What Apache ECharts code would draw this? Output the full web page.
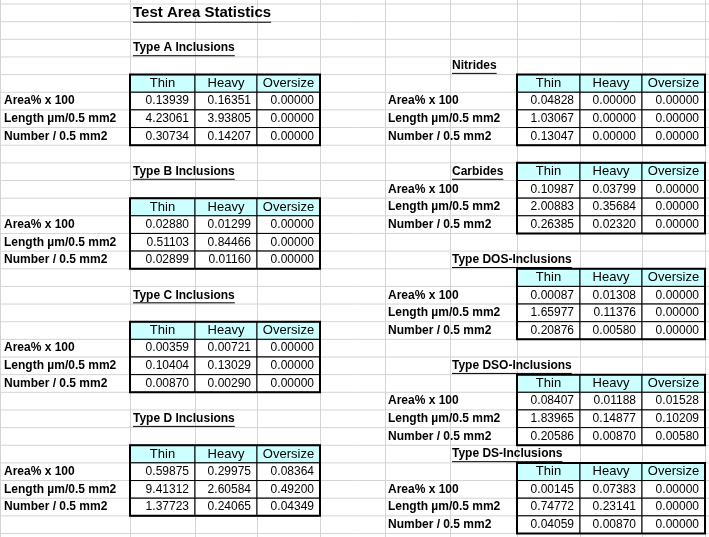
<!DOCTYPE html>
<html><head><meta charset="utf-8">
<script src="https://cdn.jsdelivr.net/npm/echarts@6/dist/echarts.min.js"></script>
<style>html,body{margin:0;padding:0;background:#fff}#c{width:709px;height:537px}</style>
</head><body><div id="c"></div>
<script>
const title = "Test Area Statistics";
const colHeaders = ["Thin","Heavy","Oversize"];
const rowLabels = ["Area% x 100","Length µm/0.5 mm2","Number / 0.5 mm2"];
const typeA = [[0.13939,0.16351,0.00000],[4.23061,3.93805,0.00000],[0.30734,0.14207,0.00000]];
const typeB = [[0.02880,0.01299,0.00000],[0.51103,0.84466,0.00000],[0.02899,0.01160,0.00000]];
const typeC = [[0.00359,0.00721,0.00000],[0.10404,0.13029,0.00000],[0.00870,0.00290,0.00000]];
const typeD = [[0.59875,0.29975,0.08364],[9.41312,2.60584,0.49200],[1.37723,0.24065,0.04349]];
const nitrides = [[0.04828,0.00000,0.00000],[1.03067,0.00000,0.00000],[0.13047,0.00000,0.00000]];
const carbides = [[0.10987,0.03799,0.00000],[2.00883,0.35684,0.00000],[0.26385,0.02320,0.00000]];
const typeDOS = [[0.00087,0.01308,0.00000],[1.65977,0.11376,0.00000],[0.20876,0.00580,0.00000]];
const typeDSO = [[0.08407,0.01188,0.01528],[1.83965,0.14877,0.10209],[0.20586,0.00870,0.00580]];
const typeDS = [[0.00145,0.07383,0.00000],[0.74772,0.23141,0.00000],[0.04059,0.00870,0.00000]];
const tableNames = ["Type A Inclusions","Type B Inclusions","Type C Inclusions","Type D Inclusions","Nitrides","Carbides","Type DOS-Inclusions","Type DSO-Inclusions","Type DS-Inclusions"];
const tableData = [typeA,typeB,typeC,typeD,nitrides,carbides,typeDOS,typeDSO,typeDS];

// layout
const colEdges=[0,130,195,257,320,385,450,517,580,642,705];
const rowTop=4, rowH=17.65, nRows=30;
// [titleRow, headerRow, side(0 left,1 right)]
const layout=[[3,5,0],[10,12,0],[17,19,0],[24,26,0],[4,5,1],[10,10,1],[15,16,1],[21,22,1],[26,27,1]];

const FONT='Liberation Sans, Arial, sans-serif';
const cv=document.createElement('canvas').getContext('2d');
function tw(t,f){cv.font=f;return cv.measureText(t).width;}

const els=[];
// spreadsheet gridlines
for(let r=0;r<=nRows+1;r++){const y=rowTop+r*rowH;els.push({type:'line',shape:{x1:0,y1:y,x2:709,y2:y},style:{stroke:'#d4d4d4',lineWidth:1}});}
colEdges.forEach(x=>els.push({type:'line',shape:{x1:x+0.5,y1:0,x2:x+0.5,y2:537},style:{stroke:'#d4d4d4',lineWidth:1}}));
// title
function uText(txt,x,yc,size){
  const f='bold '+size+'px '+FONT;
  els.push({type:'text',style:{text:txt,x:x,y:yc,font:f,fill:'#000',textVerticalAlign:'middle'}});
  const w=tw(txt,f);
  els.push({type:'line',shape:{x1:x,y1:yc+size*0.55+1,x2:x+w,y2:yc+size*0.55+1},style:{stroke:'#000',lineWidth:1}});
}
uText(title,133,13,15);
layout.forEach((L,ti)=>{
  const [tr,hr,side]=L;
  const cols=side?[7,8,9]:[1,2,3];
  const ytc=rowTop+(tr-0.5)*rowH;
  uText(tableNames[ti], side?452:133, ytc, 12);
  const x0=colEdges[cols[0]], x1=colEdges[cols[2]+1];
  const y0=rowTop+(hr-1)*rowH, y1=rowTop+(hr+3)*rowH;
  // header
  cols.forEach((c,j)=>{
    const a=colEdges[c],b=colEdges[c+1];
    els.push({type:'rect',shape:{x:a,y:y0,width:b-a,height:rowH},style:{fill:'#ccffff',stroke:'#000',lineWidth:1}});
    els.push({type:'text',style:{text:colHeaders[j],x:(a+b)/2,y:y0+rowH/2,font:'13px '+FONT,fill:'#000',textAlign:'center',textVerticalAlign:'middle'}});
  });
  tableData[ti].forEach((row,i)=>{
    const y=y0+(i+1)*rowH;
    els.push({type:'text',style:{text:rowLabels[i],x:side?388:4,y:y+rowH/2,font:'bold 12px '+FONT,fill:'#000',textVerticalAlign:'middle'}});
    cols.forEach((c,j)=>{
      const a=colEdges[c],b=colEdges[c+1];
      els.push({type:'rect',shape:{x:a,y:y,width:b-a,height:rowH},style:{fill:'#fff',stroke:'#000',lineWidth:1}});
      els.push({type:'text',style:{text:row[j].toFixed(5),x:b-6,y:y+rowH/2,font:'12px '+FONT,fill:'#000',textAlign:'right',textVerticalAlign:'middle'}});
    });
  });
  els.push({type:'rect',shape:{x:x0,y:y0,width:x1-x0,height:y1-y0},style:{fill:'none',stroke:'#000',lineWidth:2}});
});

const chart=echarts.init(document.getElementById('c'),null,{renderer:'canvas'});
chart.setOption({
  animation:false,
  grid:{left:0,right:0,top:0,bottom:0},
  xAxis:{type:'value',min:0,max:709,show:false},
  yAxis:{type:'value',min:0,max:537,inverse:true,show:false},
  series:[{type:'custom',data:els.map((e,i)=>[i]),clip:false,
    renderItem:function(p,api){
      const e=els[api.value(0)];
      const o=api.coord([0,0]);
      return Object.assign({},e,{x:o[0],y:o[1],silent:true});
    }}]
});
</script></body></html>
